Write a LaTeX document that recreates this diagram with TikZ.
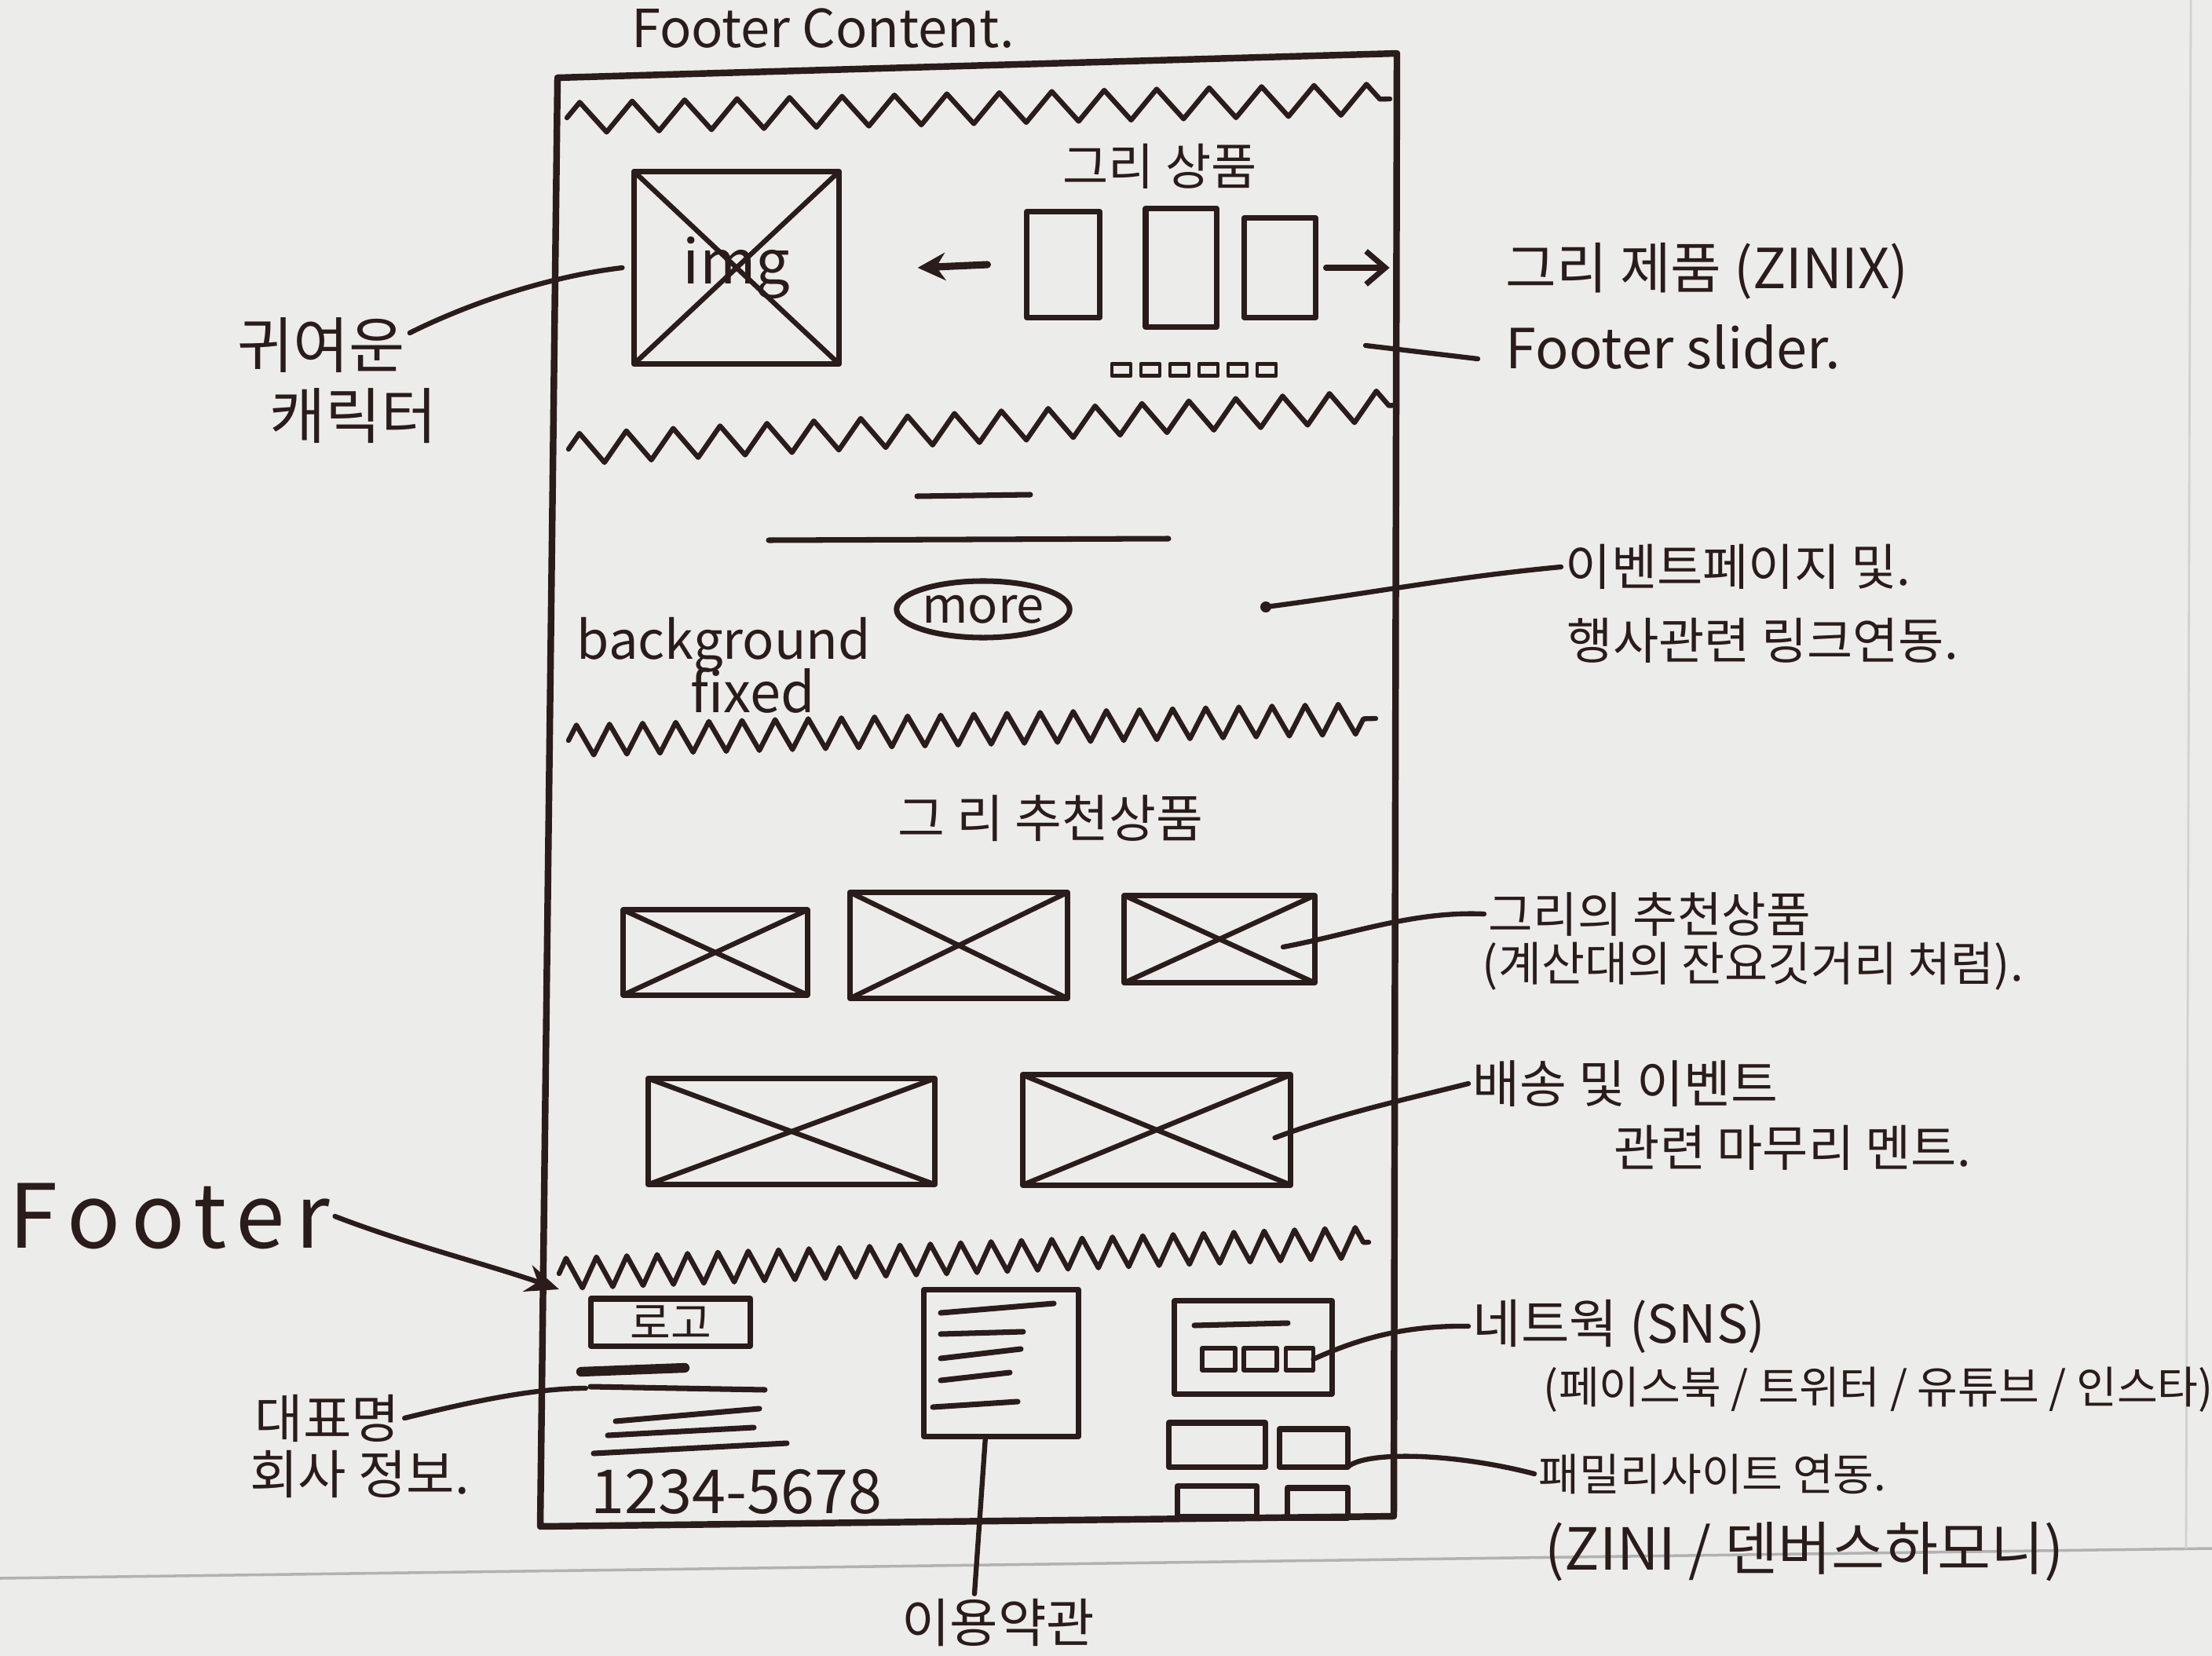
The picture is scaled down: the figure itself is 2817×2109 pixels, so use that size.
\documentclass[tikz,border=0pt]{standalone}
\usepackage{fontspec}
\setmainfont{Noto Sans CJK KR}
\newfontfamily\widefont[LetterSpace=12]{Noto Sans CJK KR}
\usetikzlibrary{decorations.pathmorphing, arrows.meta, shapes.geometric, calc}
\definecolor{ink}{RGB}{42,28,26}
\definecolor{paper}{RGB}{236,236,234}

\begin{document}
\begin{tikzpicture}[x=0.01cm, y=-0.01cm,
  pen/.style={draw=ink, line width=2pt, line cap=round, line join=round},
  frameline/.style={pen, line width=2.4pt},
  conn/.style={pen, line width=1.8pt},
  boxnode/.style={pen, rectangle, inner sep=0pt, outer sep=0pt},
  xboxnode/.style={boxnode, path picture={
      \draw[pen, line width=1.8pt]
        (path picture bounding box.north west) -- (path picture bounding box.south east)
        (path picture bounding box.south west) -- (path picture bounding box.north east);}},
  zig/.style={pen, line width=1.8pt, decorate, decoration={zigzag, segment length=#1, amplitude=5.5pt}},
  zig/.default=18pt,
  lbl/.style={text=ink, inner sep=1.5pt, font=\fontsize{#1}{#1}\selectfont},
  lbl/.default=18
]
% paper
\useasboundingbox (0,0) rectangle (2817,2109);
\fill[paper] (0,0) rectangle (2817,2109);
\draw[gray!60, line width=1pt] (0,2010) -- (2817,1972);
\draw[gray!35, line width=0.8pt] (2790,0) -- (2784,1972);

% free connector ends
\coordinate (sliderpt) at (1739,440);
\coordinate (evtpt) at (1612,773);
\coordinate (footpt) at (712,1642);
\coordinate (infopt) at (746,1768);

% title
\node[lbl=19] (title) at (1048,36) {Footer Content.};

% page frame
\coordinate (fTL) at (710,99);
\coordinate (fTR) at (1779,68);
\coordinate (fBR) at (1775,1931);
\coordinate (fBL) at (688,1944);
\draw[frameline] (fTL) -- (fTR) -- (fBR) -- (fBL) -- cycle;

% section breaks
\draw[zig=19pt] (722,150) -- (1770,126);
\draw[zig=17pt] (724,572) -- (1779,516);
\draw[zig=12pt] (724,943) -- (1752,915);
\draw[zig=11pt] (712,1622) -- (1743,1582);

% ---- slider section ----
\node[xboxnode, minimum width=2.61cm, minimum height=2.45cm] (img) at (938,341)
  {\fontsize{22}{24}\selectfont\color{ink} img};
\node[lbl=18] (sliderttl) at (1477,212) {그리 상품};
\node[boxnode, minimum width=0.93cm, minimum height=1.34cm] (s1) at (1354,337) {};
\node[boxnode, minimum width=0.90cm, minimum height=1.51cm] (s2) at (1504,341) {};
\node[boxnode, minimum width=0.91cm, minimum height=1.26cm] (s3) at (1630,341) {};
\draw[pen, line width=2.6pt, -{Stealth[length=10pt,width=10pt]}] ([xshift=-0.5cm]s1.west) -- ([xshift=1cm]img.east);
\draw[pen, -{Straight Barb[length=7pt,width=12pt]}] ([xshift=0.13cm]s3.east) -- ([xshift=0.94cm]s3.east);
\foreach \i/\x in {1/1428,2/1465,3/1502,4/1539,5/1576,6/1613}
  \node[boxnode, line width=1.4pt, minimum width=0.24cm, minimum height=0.15cm] (d\i) at (\x,471) {};

\node[lbl=22] (cute) at (409,440) {귀여운};
\node[lbl=22] (chara) at (450,530) {캐릭터};
\draw[conn] ([yshift=-0.25cm]cute.north east) .. controls (600,385) and (700,352) .. ([xshift=-0.15cm]img.west);

\node[lbl=20, anchor=west] (prod) at (1912,345) {그리 제품 (ZINIX)};
\node[lbl=20, anchor=west] (slider) at (1912,442) {Footer slider.};
\draw[conn] (sliderpt) -- ([xshift=-0.3cm,yshift=-0.15cm]slider.west);

% ---- event banner section ----
\draw[pen] (1168,632) -- (1312,630);
\draw[pen] (979,688) -- (1488,686);
\node[pen, ellipse, inner sep=0pt, minimum width=2.06cm, minimum height=0.72cm] (more) at (1252,776)
  {\fontsize{18}{20}\selectfont\color{ink} more};
\node[lbl=19] (bg) at (922,821) {background};
\node[lbl=20] (fixed) at (959,880) {fixed};
\fill[ink] (evtpt) circle [radius=7];
\node[lbl=18, anchor=west] (evt) at (1988,722) {이벤트페이지 및.};
\node[lbl=18, anchor=west] (evt2) at (1990,816) {행사관련 링크연동.};
\draw[conn] (evtpt) .. controls (1750,755) and (1850,735) .. (evt.west);

% ---- recommended products ----
\node[lbl=18.5] (recttl) at (1338,1042) {그 리 추천상품};
\node[xboxnode, minimum width=2.34cm, minimum height=1.08cm] (b1) at (911,1213) {};
\node[xboxnode, minimum width=2.77cm, minimum height=1.35cm] (b2) at (1221,1204) {};
\node[xboxnode, minimum width=2.42cm, minimum height=1.11cm] (b3) at (1553,1196) {};
\node[xboxnode, minimum width=3.65cm, minimum height=1.35cm] (b4) at (1008,1441) {};
\node[xboxnode, minimum width=3.41cm, minimum height=1.40cm] (b5) at (1473,1439) {};

\node[lbl=17.5, anchor=west] (rec) at (1890,1164) {그리의 추천상품};
\node[lbl=17, anchor=west] (rec2) at (1882,1231) {(계산대의 잔요깃거리 처럼).};
\draw[conn] ([xshift=-0.4cm,yshift=-0.1cm]b3.east) .. controls (1720,1190) and (1800,1160) .. (rec.west);

\node[lbl=18.5, anchor=west] (ship) at (1870,1380) {배송 및 이벤트};
\node[lbl=18, anchor=west] (ship2) at (2050,1462) {관련 마무리 멘트.};
\draw[conn] ([xshift=-0.2cm,yshift=-0.1cm]b5.east) .. controls (1700,1420) and (1790,1400) .. (ship.west);

% ---- footer ----
\node[text=ink, inner sep=1.5pt, font=\widefont\fontsize{32}{34}\selectfont] (footer) at (216,1549) {Footer};
\draw[conn, -{Stealth[length=12pt,width=10pt]}] (footer.east) .. controls (520,1585) and (620,1610) .. (footpt);

\node[boxnode, minimum width=2.03cm, minimum height=0.6cm] (logo) at (854,1684)
  {\fontsize{16}{18}\selectfont\color{ink} 로고};
\draw[pen, line width=3.5pt] (740,1747) -- (872,1742);
\draw[pen] (752,1766) -- (974,1770);
\draw[pen] (784,1810) -- (967,1794);
\draw[pen] (774,1828) -- (960,1818);
\draw[pen] (756,1851) -- (1002,1838);
\node[lbl=22] (phone) at (938,1900) {1234-5678};

\node[lbl=19] (ceo) at (417,1806) {대표명};
\node[lbl=19] (ceo2) at (458,1877) {회사 정보.};
\draw[conn] (ceo.east) .. controls (600,1785) and (680,1768) .. (infopt);

\node[boxnode, minimum width=1.96cm, minimum height=1.87cm] (doc) at (1275,1736) {};
\draw[pen] (1198,1672) -- (1342,1660);
\draw[pen] (1198,1699) -- (1303,1696);
\draw[pen] (1198,1730) -- (1300,1718);
\draw[pen] (1198,1758) -- (1286,1748);
\draw[pen] (1188,1792) -- (1296,1785);
\node[lbl=19] (terms) at (1271,2066) {이용약관};
\draw[conn] ([xshift=-0.2cm]doc.south) -- ([xshift=-0.3cm]terms.north);

\node[boxnode, minimum width=2cm, minimum height=1.18cm] (sns) at (1596,1716) {};
\draw[pen] (1521,1688) -- (1640,1685);
\node[boxnode, line width=1.6pt, minimum width=0.42cm, minimum height=0.28cm] (sq1) at (1552,1731) {};
\node[boxnode, line width=1.6pt, minimum width=0.42cm, minimum height=0.28cm] (sq2) at (1605,1731) {};
\node[boxnode, line width=1.6pt, minimum width=0.35cm, minimum height=0.28cm] (sq3) at (1655,1731) {};
\node[lbl=19, anchor=west] (net) at (1870,1689) {네트웍 (SNS)};
\node[lbl=16, anchor=west] (net2) at (1960,1770) {(페이스북 / 트위터 / 유튜브 / 인스타)};
\draw[conn] (sq3.east) .. controls (1740,1700) and (1800,1688) .. (net.west);

\node[boxnode, minimum width=1.23cm, minimum height=0.56cm] (fb1) at (1550,1840) {};
\node[boxnode, minimum width=0.87cm, minimum height=0.48cm] (fb2) at (1673,1844) {};
\node[boxnode, minimum width=1.01cm, minimum height=0.39cm] (fb3) at (1550,1912) {};
\node[boxnode, minimum width=0.77cm, minimum height=0.38cm] (fb4) at (1678,1914) {};
\node[lbl=16, anchor=west] (fam) at (1954,1877) {패밀리사이트 연동.};
\node[lbl=21, anchor=west] (fam2) at (1962,1976) {(ZINI / 덴버스하모니)};
\draw[conn] (fb2.south east) .. controls (1740,1848) and (1850,1850) .. (fam.west);
\end{tikzpicture}
\end{document}
